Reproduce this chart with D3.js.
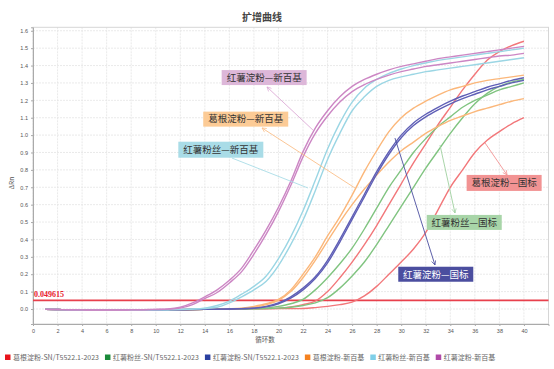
<!DOCTYPE html>
<html><head><meta charset="utf-8">
<script src="https://cdn.jsdelivr.net/npm/d3@7"></script>
<style>body{margin:0;background:#fff}svg{display:block;font-family:"Noto Sans CJK SC","Noto Sans",sans-serif}</style>
</head><body><svg id="c" width="554" height="369"></svg>
<script>
const cycles = d3.range(1, 41);
const xTicks = d3.range(0, 41, 2);
const yTicks = d3.range(0, 17).map(i => i / 10);
const threshold = 0.049615;
const seriesNames = ["葛根淀粉-SN/T5522.1-2023","红薯粉丝-SN/T5522.1-2023","红薯淀粉-SN/T5522.1-2023","葛根淀粉-新百基","红薯粉丝-新百基","红薯淀粉-新百基"];
const legendColors = ["#e8141c","#1a8a3a","#2a3fa0","#f58220","#7fcfe8","#b04aa8"];
const lineColors = ["#f2777a","#80c480","#5f5fb6","#fbb77a","#9bd6e4","#cc86c4"];
// each curve: ΔRn at cycles 1..40
const red1 = [-0.002,-0.003,-0.004,-0.005,-0.006,-0.006,-0.007,-0.007,-0.007,-0.006,-0.005,-0.004,-0.003,-0.002,-0.001,0,0.001,0.002,0.003,0.005,0.012,0.025,0.045,0.1,0.18,0.27,0.37,0.48,0.6,0.72,0.84,0.95,1.06,1.16,1.26,1.35,1.43,1.48,1.515,1.54];
const red2 = [-0.002,-0.003,-0.004,-0.005,-0.006,-0.006,-0.007,-0.007,-0.007,-0.006,-0.005,-0.004,-0.003,-0.002,-0.001,0,0,0.001,0.001,0.002,0.002,0.003,0.008,0.015,0.025,0.04,0.075,0.13,0.2,0.27,0.345,0.44,0.57,0.7,0.8,0.9,0.97,1.02,1.065,1.1];
const green1 = [-0.002,-0.003,-0.004,-0.005,-0.006,-0.006,-0.007,-0.007,-0.007,-0.006,-0.005,-0.004,-0.003,-0.002,-0.001,0,0.001,0.002,0.005,0.015,0.03,0.055,0.11,0.18,0.26,0.35,0.46,0.58,0.7,0.8,0.9,0.98,1.05,1.105,1.16,1.2,1.23,1.26,1.28,1.3];
const green2 = [-0.002,-0.003,-0.004,-0.005,-0.006,-0.006,-0.007,-0.007,-0.007,-0.006,-0.005,-0.004,-0.003,-0.002,-0.001,0,0,0.001,0.002,0.005,0.01,0.02,0.035,0.065,0.12,0.19,0.27,0.37,0.48,0.59,0.7,0.81,0.91,1.01,1.1,1.18,1.24,1.28,1.305,1.32];
const blue1 = [-0.002,-0.003,-0.004,-0.005,-0.006,-0.006,-0.007,-0.007,-0.007,-0.006,-0.005,-0.004,-0.003,-0.002,-0.001,0,0.002,0.005,0.015,0.035,0.07,0.12,0.185,0.28,0.4,0.53,0.66,0.79,0.905,1.0,1.07,1.12,1.16,1.195,1.225,1.25,1.275,1.295,1.315,1.33];
const blue2 = [-0.002,-0.003,-0.004,-0.005,-0.006,-0.006,-0.007,-0.007,-0.007,-0.006,-0.005,-0.004,-0.003,-0.002,-0.001,0,0.001,0.004,0.012,0.03,0.062,0.11,0.175,0.265,0.385,0.515,0.645,0.775,0.89,0.985,1.055,1.105,1.145,1.18,1.21,1.235,1.26,1.28,1.3,1.315];
const orange1 = [-0.002,-0.003,-0.004,-0.005,-0.006,-0.006,-0.007,-0.007,-0.007,-0.006,-0.005,-0.004,-0.003,-0.002,-0.001,0.001,0.005,0.015,0.03,0.055,0.11,0.2,0.3,0.42,0.53,0.655,0.79,0.91,1.02,1.1,1.155,1.195,1.23,1.26,1.28,1.3,1.315,1.325,1.335,1.345];
const orange2 = [-0.002,-0.003,-0.004,-0.005,-0.006,-0.006,-0.007,-0.007,-0.007,-0.006,-0.005,-0.004,-0.003,-0.002,-0.001,0,0.003,0.01,0.025,0.05,0.1,0.18,0.28,0.39,0.5,0.6,0.69,0.77,0.845,0.91,0.96,1.01,1.05,1.085,1.11,1.135,1.155,1.175,1.195,1.21];
const cyan1 = [-0.002,-0.003,-0.004,-0.005,-0.006,-0.006,-0.007,-0.007,-0.006,-0.005,-0.004,-0.002,0,0.005,0.02,0.045,0.085,0.13,0.19,0.29,0.415,0.565,0.74,0.92,1.07,1.19,1.27,1.32,1.355,1.38,1.4,1.415,1.43,1.44,1.45,1.46,1.47,1.48,1.49,1.5];
const cyan2 = [-0.002,-0.003,-0.004,-0.005,-0.006,-0.006,-0.007,-0.007,-0.006,-0.005,-0.004,-0.003,-0.001,0.003,0.01,0.035,0.07,0.11,0.16,0.25,0.37,0.51,0.68,0.86,1.01,1.14,1.22,1.28,1.315,1.335,1.35,1.365,1.375,1.385,1.395,1.405,1.415,1.425,1.435,1.445];
const purple1 = [-0.002,-0.003,-0.004,-0.005,-0.006,-0.006,-0.006,-0.005,-0.004,-0.002,0,0.01,0.035,0.07,0.11,0.165,0.235,0.34,0.455,0.585,0.735,0.905,1.04,1.14,1.22,1.28,1.32,1.35,1.375,1.395,1.41,1.425,1.44,1.45,1.46,1.47,1.48,1.49,1.5,1.51];
const purple2 = [-0.002,-0.003,-0.004,-0.005,-0.006,-0.006,-0.006,-0.005,-0.004,-0.003,-0.001,0.005,0.025,0.06,0.095,0.15,0.215,0.315,0.43,0.56,0.71,0.875,1.01,1.11,1.19,1.25,1.29,1.32,1.345,1.365,1.38,1.395,1.405,1.415,1.425,1.435,1.445,1.455,1.46,1.47];
const curves = [
  {s:0, v:red2},{s:0, v:red1},{s:1, v:green2},{s:1, v:green1},
  {s:3, v:orange2},{s:3, v:orange1},{s:2, v:blue2},{s:2, v:blue1},
  {s:4, v:cyan2},{s:4, v:cyan1},{s:5, v:purple2},{s:5, v:purple1}
];
const labels = [
  {t:"红薯淀粉—新百基", bx:15.37, by:1.374, w:85, h:15, fill:"#ddb7d9", tc:"#333", from:[22.81,1.029], to:[19.06,1.277], c:"#dcaad6", arrow:true},
  {t:"葛根淀粉—新百基", bx:13.87, by:1.135, w:85, h:15, fill:"#fccb96", tc:"#333", from:[26.23,0.696], to:[18.66,1.041], c:"#fbc08a", arrow:true},
  {t:"红薯粉丝—新百基", bx:11.84, by:0.962, w:85, h:16, fill:"#a9dce7", tc:"#333", from:[22.4,0.696], to:[16.21,0.868], c:"#a9dce7", arrow:false},
  {t:"葛根淀粉—国标", bx:35.33, by:0.771, w:75, h:16, fill:"#f29393", tc:"#333", from:[36.83,0.955], to:[38.62,0.771], c:"#f29393", arrow:true},
  {t:"红薯粉丝—国标", bx:32.08, by:0.541, w:75, h:15, fill:"#a8d5a8", tc:"#333", from:[33.16,0.943], to:[34.38,0.552], c:"#9fd09f", arrow:true},
  {t:"红薯淀粉—国标", bx:29.76, by:0.243, w:75, h:15, fill:"#4b4e9f", tc:"#fff", from:[29.49,0.983], to:[32.75,0.253], c:"#4b4e9f", arrow:true}
];

const svg = d3.select("#c");
svg.append("rect").attr("width",554).attr("height",369).attr("fill","#fff");
const x = d3.scaleLinear().domain([0,42]).range([33,548.5]);
const y = d3.scaleLinear().domain([-0.0863,1.62]).range([324,27.3]);

// grid
const g = svg.append("g");
g.selectAll(".gx").data(xTicks.concat([42])).join("line")
  .attr("x1",d=>x(d)).attr("x2",d=>x(d)).attr("y1",y.range()[1]).attr("y2",y.range()[0])
  .attr("stroke","#e4e4e4").attr("stroke-dasharray","2,1").attr("stroke-width",0.8);
g.selectAll(".gy").data(yTicks).join("line")
  .attr("x1",x(0)).attr("x2",x(42)).attr("y1",d=>y(d)).attr("y2",d=>y(d))
  .attr("stroke","#e4e4e4").attr("stroke-dasharray","2,1").attr("stroke-width",0.8);
svg.append("rect").attr("x",x(0)).attr("y",y.range()[1]).attr("width",x(42)-x(0)).attr("height",y.range()[0]-y.range()[1])
  .attr("fill","none").attr("stroke","#d6d6d6").attr("stroke-width",1);

// axes
const ax = svg.append("g").attr("transform",`translate(0,${y.range()[0]})`)
  .call(d3.axisBottom(x).tickValues(xTicks).tickSize(2).tickFormat(d3.format("d")));
const ay = svg.append("g").attr("transform",`translate(${x(0)},0)`)
  .call(d3.axisLeft(y).tickValues(yTicks).tickSize(2).tickFormat(d3.format(".1f")));
[ax,ay].forEach(a=>{
  a.select(".domain").attr("stroke","#aaa");
  a.selectAll(".tick line").attr("stroke","#aaa");
  a.selectAll("text").attr("fill","#555").style("font-size","5.5px").style("font-family","'Liberation Sans',Arial,sans-serif");
});
ax.selectAll("text").attr("dy","0.7em");

// threshold
svg.append("line").attr("x1",x(0)).attr("x2",x(42)).attr("y1",y(threshold)).attr("y2",y(threshold))
  .attr("stroke","#e8404c").attr("stroke-width",1.6);
svg.append("text").attr("x",x(0)+1).attr("y",y(threshold)-3).text(String(threshold))
  .attr("fill","#e8202c").style("font-family","'Liberation Serif','DejaVu Serif',serif").style("font-weight","bold").style("font-size","8px");

// curves
const line = d3.line().x((d,i)=>x(cycles[i])).y(d=>y(d)).curve(d3.curveMonotoneX);
svg.append("g").selectAll("path").data(curves).join("path")
  .attr("d",d=>line(d.v)).attr("fill","none").attr("stroke",d=>lineColors[d.s]).attr("stroke-width",1.4);

// annotations
const defs = svg.append("defs");
labels.forEach((l,i)=>{
  defs.append("marker").attr("id","m"+i).attr("viewBox","0 0 10 10").attr("refX",9).attr("refY",5)
    .attr("markerWidth",6).attr("markerHeight",6).attr("orient","auto")
    .append("path").attr("d","M1,1 L9,5 L1,9").attr("fill","none").attr("stroke",l.c).attr("stroke-width",1.3);
  const ln = svg.append("line").attr("x1",x(l.from[0])).attr("y1",y(l.from[1])).attr("x2",x(l.to[0])).attr("y2",y(l.to[1]))
    .attr("stroke",l.c).attr("stroke-width",0.9);
  if(l.arrow) ln.attr("marker-end",`url(#m${i})`);
  svg.append("rect").attr("x",x(l.bx)).attr("y",y(l.by)).attr("width",l.w).attr("height",l.h).attr("fill",l.fill);
  svg.append("text").attr("x",x(l.bx)+l.w/2).attr("y",y(l.by)+l.h/2+3.3).attr("text-anchor","middle")
    .text(l.t).attr("fill",l.tc).style("font-size","9.5px");
});

// titles
svg.append("text").attr("x",262).attr("y",21).attr("text-anchor","middle").text("扩增曲线")
  .attr("fill","#444").style("font-size","10px").style("font-weight","bold");
svg.append("text").attr("transform","translate(14,183) rotate(-90)").attr("text-anchor","middle").text("ΔRn")
  .attr("fill","#555").style("font-size","6.5px");
svg.append("text").attr("x",265).attr("y",341.5).attr("text-anchor","middle").text("循环数")
  .attr("fill","#555").style("font-size","6.5px");

// legend
const lg = svg.append("g");
let lx = 5;
seriesNames.forEach((n,i)=>{
  lg.append("rect").attr("x",lx).attr("y",354.5).attr("width",5.5).attr("height",5.5).attr("fill",legendColors[i]);
  const t = lg.append("text").attr("x",lx+8).attr("y",360).text(n).attr("fill","#666").style("font-size","7px");
  lx += 8 + t.node().getComputedTextLength() + 6;
});
</script></body></html>
